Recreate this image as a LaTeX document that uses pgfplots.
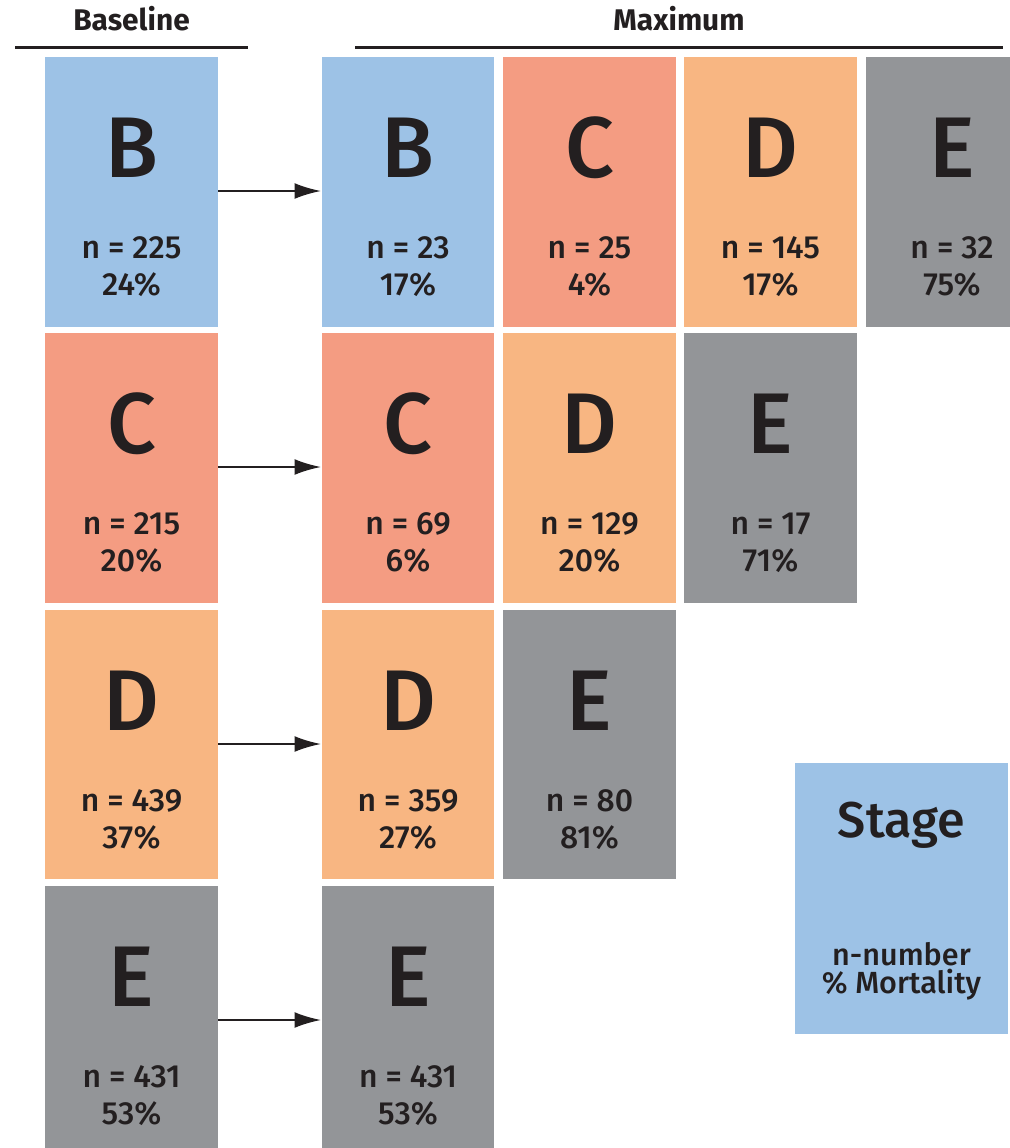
\documentclass[border=0pt]{standalone}
\usepackage{fontspec}
\setmainfont{Fira Sans}
\newfontfamily\medfont{Fira Sans Medium}
\usepackage{pgfplots}
\usepackage{pgfplotstable}
\pgfplotsset{compat=1.18}
\usetikzlibrary{arrows.meta}
\definecolor{cB}{HTML}{9DC2E6}
\definecolor{cC}{HTML}{F49C82}
\definecolor{cD}{HTML}{F8B682}
\definecolor{cE}{HTML}{939598}
\definecolor{txt}{HTML}{231F20}

% xc = tile centre, top = tile top (pixels from the top)
\pgfplotstableread{
xc    top L n   pct
131.5 57  B 225 24
408   57  B 23  17
589.5 57  C 25  4
770.5 57  D 145 17
952   57  E 32  75
131.5 333 C 215 20
408   333 C 69  6
589.5 333 D 129 20
770.5 333 E 17  71
131.5 610 D 439 37
408   610 D 359 27
589.5 610 E 80  81
131.5 886 E 431 53
408   886 E 431 53
}\tiles

\newcommand{\tile}[5]{\addplot[draw=none, fill=#1] coordinates {(#2,#4) (#3,#4) (#3,#5) (#2,#5)} -- cycle;}

\begin{document}
\begin{tikzpicture}
\begin{axis}[
  scale only axis, width=101mm, height=114.8mm,
  xmin=0, xmax=1010, ymin=0, ymax=1148, y dir=reverse,
  hide axis, clip=true,
]
% row 0
\tile{cB}{45}{218}{57}{327}
\tile{cB}{322}{494}{57}{327}
\tile{cC}{503}{676}{57}{327}
\tile{cD}{684}{857}{57}{327}
\tile{cE}{866}{1038}{57}{327}
% row 1
\tile{cC}{45}{218}{333}{603}
\tile{cC}{322}{494}{333}{603}
\tile{cD}{503}{676}{333}{603}
\tile{cE}{684}{857}{333}{603}
% row 2
\tile{cD}{45}{218}{610}{879}
\tile{cD}{322}{494}{610}{879}
\tile{cE}{503}{676}{610}{879}
% row 3
\tile{cE}{45}{218}{886}{1156}
\tile{cE}{322}{494}{886}{1156}
% legend tile
\tile{cB}{795}{1008}{763}{1034}

% header rules
\addplot[line width=0.85pt, color=txt] coordinates {(15,47.5) (248,47.5)};
\addplot[line width=0.85pt, color=txt] coordinates {(355,47.5) (1003,47.5)};

% arrows
\addplot[line width=0.6pt, color=txt, -{Latex[length=7.5pt,width=4.5pt]}] coordinates {(218,191) (321,191)};
\addplot[line width=0.6pt, color=txt, -{Latex[length=7.5pt,width=4.5pt]}] coordinates {(218,467) (321,467)};
\addplot[line width=0.6pt, color=txt, -{Latex[length=7.5pt,width=4.5pt]}] coordinates {(218,744) (321,744)};
\addplot[line width=0.6pt, color=txt, -{Latex[length=7.5pt,width=4.5pt]}] coordinates {(218,1020) (321,1020)};

% big stage letters
\addplot[draw=none, point meta=explicit symbolic, nodes near coords,
  every node near coord/.append style={anchor=base, inner sep=0pt, text=txt, font=\medfont\fontsize{24.5}{29}\selectfont}]
  table[x=xc, y expr=\thisrow{top}+120, meta=L] {\tiles};
% n lines
\addplot[draw=none, point meta=explicit symbolic, nodes near coords={n = \pgfplotspointmeta},
  every node near coord/.append style={anchor=base, inner sep=0pt, text=txt, font=\medfont\fontsize{9.1}{10}\selectfont}]
  table[x=xc, y expr=\thisrow{top}+201, meta=n] {\tiles};
% mortality lines
\addplot[draw=none, point meta=explicit symbolic, nodes near coords={\pgfplotspointmeta\%},
  every node near coord/.append style={anchor=base, inner sep=0pt, text=txt, font=\medfont\fontsize{9.1}{10}\selectfont}]
  table[x=xc, y expr=\thisrow{top}+238, meta=pct] {\tiles};

% headers
\node[anchor=base, inner sep=0pt, text=txt, font=\bfseries\fontsize{8.5}{10}\selectfont] at (axis cs:131.5,30) {Baseline};
\node[anchor=base, inner sep=0pt, text=txt, font=\bfseries\fontsize{8.5}{10}\selectfont] at (axis cs:679,30) {Maximum};

% legend text
\node[anchor=base, inner sep=0pt, text=txt, font=\medfont\fontsize{14.3}{16}\selectfont] at (axis cs:901.5,837) {Stage};
\node[anchor=base, inner sep=0pt, text=txt, font=\medfont\fontsize{8.7}{10}\selectfont] at (axis cs:901.5,965) {n-number};
\node[anchor=base, inner sep=0pt, text=txt, font=\medfont\fontsize{8.7}{10}\selectfont] at (axis cs:901.5,993) {\% Mortality};
\end{axis}
\pgfresetboundingbox
\path (current axis.south west) rectangle (current axis.north east);
\end{tikzpicture}
\end{document}
